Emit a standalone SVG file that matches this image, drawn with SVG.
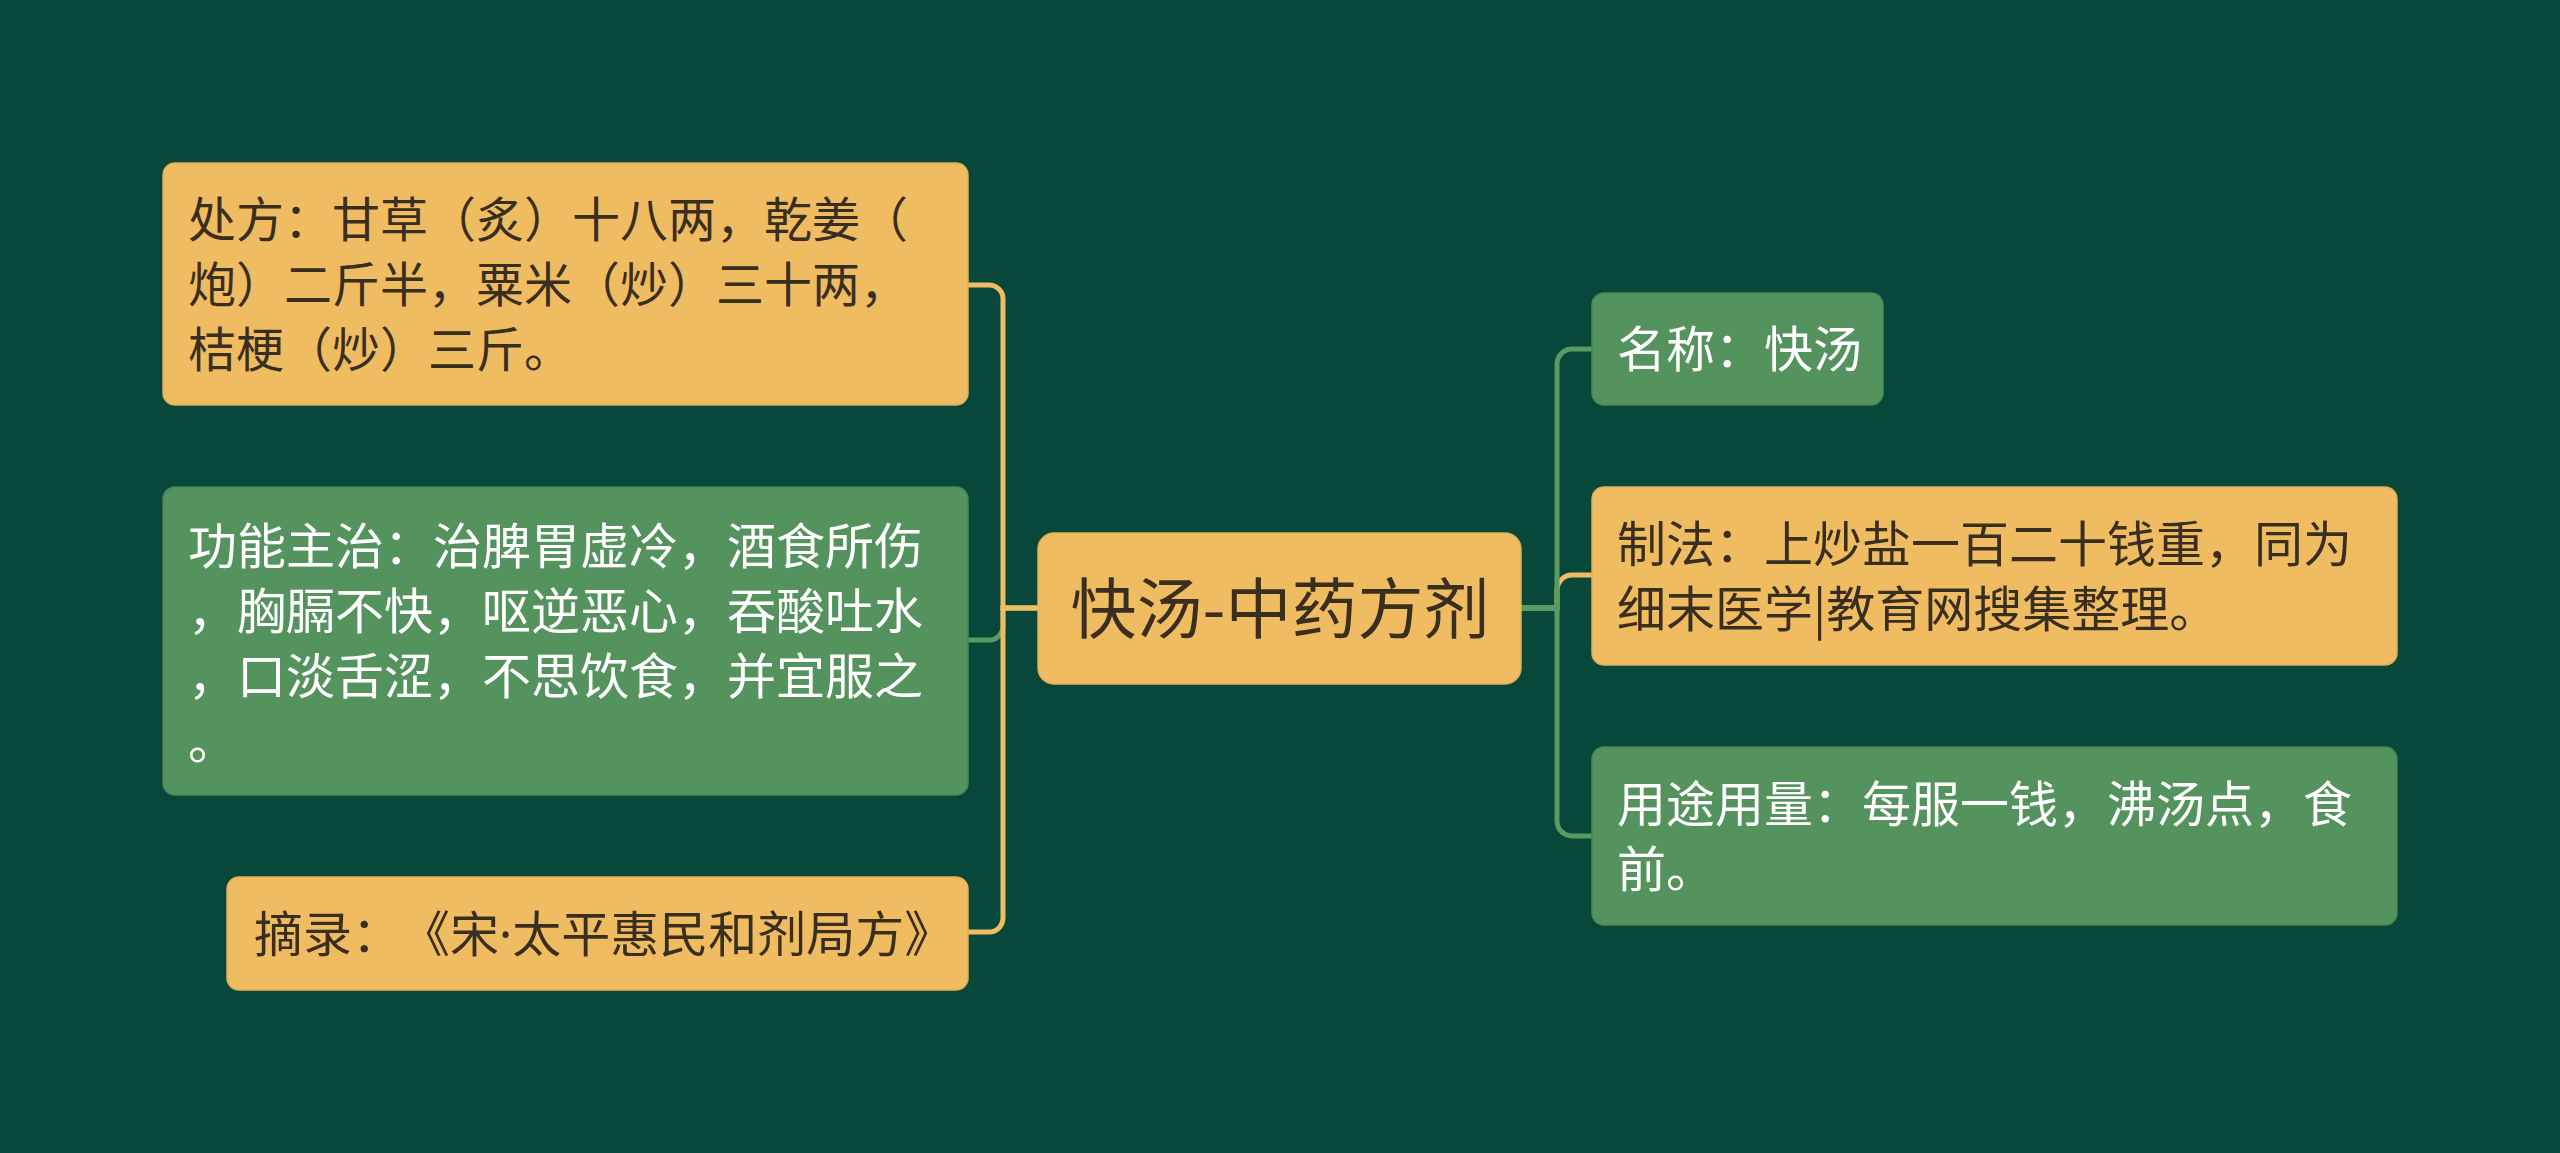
<svg xmlns="http://www.w3.org/2000/svg" width="2560" height="1153" viewBox="0 0 2560 1153">
<style>
.bg{fill:#07483a}
.ny{fill:#f0bc62;stroke:#e2ad55;stroke-width:1.5}
.ng{fill:#54935e;stroke:#4a8755;stroke-width:1.5}
.t{font-family:"Noto Sans CJK SC","Noto Sans",sans-serif;font-size:49px;text-spacing-trim:space-all}
.t48{font-size:48px}
.td{fill:#3a2f1f}
.tw{fill:#ffffff}
.dot{font-family:"Noto Sans",sans-serif}
.title{font-family:"Noto Sans CJK SC","Noto Sans",sans-serif;font-size:66px;fill:#3a2f1f;text-anchor:middle}
.cy{fill:none;stroke:#f0bc62;stroke-width:5}
.cg{fill:none;stroke:#5a9b63;stroke-width:5}
</style>
<rect class="bg" x="0" y="0" width="2560" height="1153"/>
<g id="connectors">
<path class="cg" d="M1038,608 H1003 V626 A14 14 0 0 1 989 640 H968"/>
<path class="cy" d="M1038,608 H1003 V299 A14 14 0 0 0 989 285 H968"/>
<path class="cy" d="M1038,608 H1003 V918 A14 14 0 0 1 989 932 H968"/>
<path class="cy" d="M1521,608 H1557 V590 A15 15 0 0 1 1572 575 H1592"/>
<path class="cg" d="M1521,608 H1557 V364 A15 15 0 0 1 1572 349 H1592"/>
<path class="cg" d="M1521,608 H1557 V821 A15 15 0 0 0 1572 836 H1592"/>
</g>
<g id="root">
<rect class="ny" x="1038" y="533" width="483" height="151" rx="16"/>
<text class="title" x="1280" y="633">快汤-中药方剂</text>
</g>
<g id="node-chufang">
<rect class="ny" x="163" y="163" width="805" height="242" rx="12"/>
<text class="t t48 td" x="188" y="237">处方：甘草（炙）十八两，乾姜（</text>
<text class="t t48 td" x="188" y="302">炮）二斤半，粟米（炒）三十两，</text>
<text class="t t48 td" x="188" y="367">桔梗（炒）三斤。</text>
</g>
<g id="node-gongneng">
<rect class="ng" x="163" y="487" width="805" height="308" rx="12"/>
<text class="t tw" x="188" y="564">功能主治：治脾胃虚冷，酒食所伤</text>
<text class="t tw" x="188" y="629">，胸膈不快，呕逆恶心，吞酸吐水</text>
<text class="t tw" x="188" y="694">，口淡舌涩，不思饮食，并宜服之</text>
<text class="t tw" x="188" y="759">。</text>
</g>
<g id="node-zhailu">
<rect class="ny" x="227" y="877" width="741" height="113" rx="12"/>
<text class="t td" x="254" y="952">摘录：《宋<tspan class="dot">·</tspan>太平惠民和剂局方》</text>
</g>
<g id="node-mingcheng">
<rect class="ng" x="1592" y="293" width="291" height="112" rx="12"/>
<text class="t tw" x="1617" y="367">名称：快汤</text>
</g>
<g id="node-zhifa">
<rect class="ny" x="1592" y="487" width="805" height="178" rx="12"/>
<text class="t td" x="1617" y="562">制法：上炒盐一百二十钱重，同为</text>
<text class="t td" x="1617" y="627">细末医学|教育网搜集整理。</text>
</g>
<g id="node-yongtu">
<rect class="ng" x="1592" y="747" width="805" height="178" rx="12"/>
<text class="t tw" x="1617" y="822">用途用量：每服一钱，沸汤点，食</text>
<text class="t tw" x="1617" y="887">前。</text>
</g>
</svg>
